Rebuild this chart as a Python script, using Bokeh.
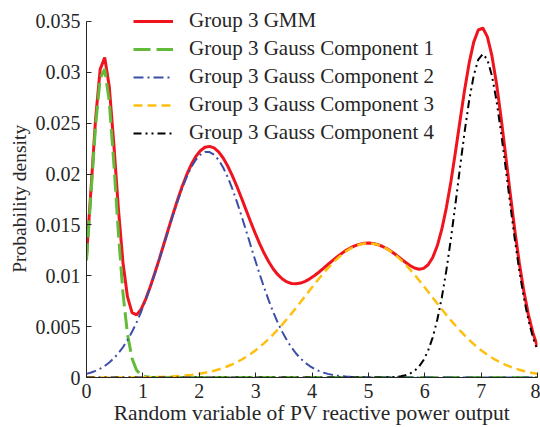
import numpy as np
from bokeh.plotting import figure
from bokeh.models import Range1d, FixedTicker, Legend, LegendItem
from bokeh.embed import file_html
from bokeh.resources import INLINE

# Gaussian mixture parameters (peak height, mean, std)
comp_names = ["Group 3 Gauss Component 1", "Group 3 Gauss Component 2",
              "Group 3 Gauss Component 3", "Group 3 Gauss Component 4"]
comp_means = [0.30, 2.14, 5.00, 7.03]
comp_sigmas = [0.215, 0.745, 1.12, 0.435]
comp_peaks = [0.0305, 0.0222, 0.0132, 0.0318]
gmm_name = "Group 3 GMM"

x_ticks = [0, 1, 2, 3, 4, 5, 6, 7, 8]
y_ticks = [0, 0.005, 0.01, 0.015, 0.02, 0.025, 0.03, 0.035]
y_tick_labels = ["0", "0.005", "0.01", "0.015", "0.02", "0.025", "0.03", "0.035"]
x_label = "Random variable of PV reactive power output"
y_label = "Probability density"

x_grid = np.linspace(0, 8, 100)

comp_colors = ["#62bb3a", "#3b4ea6", "#ffbf0f", "#000000"]
comp_dashes = ["17 6", "10 4 2 4", "9 5", "8 4 2 4 2 4"]
comp_widths = [3, 2, 2.5, 2]

FONT = "Liberation Serif"
AX = "#262626"

p = figure(width=540, height=427, output_backend="svg", toolbar_location=None,
           x_range=Range1d(0, 8), y_range=Range1d(0, 0.03657),
           min_border_left=86, min_border_right=3, min_border_top=5,
           min_border_bottom=49)
p.outline_line_color = None
p.xgrid.visible = False
p.ygrid.visible = False

comps = [pk * np.exp(-0.5 * ((x_grid - m) / s) ** 2)
         for pk, m, s in zip(comp_peaks, comp_means, comp_sigmas)]
gmm = np.sum(comps, axis=0)

items = []
r = p.line(x_grid, gmm, line_color="#f0141e", line_width=3)
items.append(LegendItem(label=gmm_name, renderers=[r]))
for name, y, c, d, w in zip(comp_names, comps, comp_colors, comp_dashes, comp_widths):
    r = p.line(x_grid, y, line_color=c, line_width=w, line_dash=d)
    items.append(LegendItem(label=name, renderers=[r]))

for ax in (p.xaxis[0], p.yaxis[0]):
    ax.axis_line_color = AX
    ax.major_tick_line_color = AX
    ax.major_tick_in = 5
    ax.major_tick_out = 0
    ax.minor_tick_line_color = None
    ax.major_label_text_font = FONT
    ax.major_label_text_font_size = "20px"
    ax.major_label_text_font_style = "normal"
    ax.major_label_text_color = AX
    ax.axis_label_text_font = FONT
    ax.axis_label_text_font_style = "normal"
    ax.axis_label_text_color = AX
p.xaxis.axis_label_text_font_size = "21.5px"
p.yaxis.axis_label_text_font_size = "19.5px"

p.xaxis.ticker = FixedTicker(ticks=x_ticks)
p.yaxis.ticker = FixedTicker(ticks=y_ticks)
p.yaxis.bounds = (0, 0.035)
p.yaxis.major_label_overrides = {t: l for t, l in zip(y_ticks, y_tick_labels)}
p.xaxis.major_label_standoff = 6
p.yaxis.major_label_standoff = 6
p.xaxis.axis_label = x_label
# trailing no-break spaces re-centre the rotated label on the 0..0.035 axis
p.yaxis.axis_label = y_label + "\u00a0\u00a0\u00a0"
p.xaxis.axis_label_standoff = 0
p.yaxis.axis_label_standoff = 3

legend = Legend(items=items, location=(47, 232), padding=0, margin=0,
                glyph_width=40, glyph_height=24, label_height=24, spacing=3,
                label_standoff=16, label_text_font=FONT,
                label_text_font_style="normal", label_text_font_size="21px",
                label_text_color=AX, border_line_alpha=0, background_fill_alpha=0)
p.add_layout(legend, "center")

open("out.html", "w").write(file_html(p, INLINE))
